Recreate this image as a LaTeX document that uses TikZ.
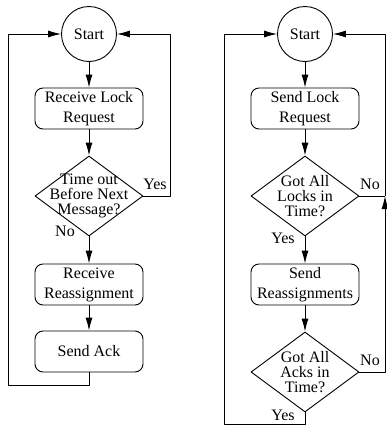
\documentclass[tikz,border=0pt]{standalone}
\usepackage{fontspec}
\setmainfont{Liberation Serif}
\usetikzlibrary{shapes.geometric,arrows.meta}
\begin{document}
\begin{tikzpicture}[x=1pt, y=-1pt, font=\fontsize{16}{20}\selectfont, line join=round, line width=0.9pt,
		>={Latex[length=13pt,width=7pt]},
		startnode/.style={draw, circle, minimum size=55pt, inner sep=0pt},
		procbox/.style={draw, rounded corners=8pt, minimum width=108pt, minimum height=41pt, inner sep=0pt, align=center},
		decision/.style={draw, diamond, minimum width=108pt, minimum height=80pt, inner sep=0pt},
		dtext/.style={align=center, inner sep=0pt, font=\fontsize{16}{15}\selectfont}]
	\useasboundingbox (0,0) rectangle (386,426);
	\node[startnode] (startA) at (89,34) {Start};
	\node[procbox] (lockreq) at (89,108.5) {Receive Lock\\Request};
	\node[decision, label={[dtext]center:{Time out\\Before Next\\Message?}}] (timeout) at (89,196) {};
	\node[procbox] (recvreass) at (89,284.5) {Receive\\Reassignment};
	\node[procbox] (sendack) at (89,351.5) {Send Ack};
	\node (yesA) at (155,184) {Yes};
	\node (noA) at (65,231) {No};
	\coordinate (loopA) at (8,385);
	\coordinate (backA) at (170,196);
	\draw[->] (startA) -- (lockreq);
	\draw[->] (lockreq) -- (timeout);
	\draw[->] (timeout) -- (recvreass);
	\draw[->] (recvreass) -- (sendack);
	\draw[->] (timeout) -- (backA) |- (startA);
	\draw[->] (sendack) -- (sendack |- loopA) -- (loopA) |- (startA);
	\node[startnode] (startB) at (305,34) {Start};
	\node[procbox] (sendlock) at (305,108.5) {Send Lock\\Request};
	\node[decision, label={[dtext]center:{Got All\\Locks in\\Time?}}] (gotlocks) at (305,196) {};
	\node[procbox] (sendreass) at (305,284.5) {Send\\Reassignments};
	\node[decision, label={[dtext]center:{Got All\\Acks in\\Time?}}] (gotacks) at (305,372) {};
	\node (noB) at (370,184) {No};
	\node (yesB) at (283,238) {Yes};
	\node (noC) at (370,360) {No};
	\node (yesC) at (283,415) {Yes};
	\coordinate (backB) at (385,196);
	\coordinate (loopB) at (224,424);
	\draw[->] (startB) -- (sendlock);
	\draw[->] (sendlock) -- (gotlocks);
	\draw[->] (gotlocks) -- (sendreass);
	\draw[->] (sendreass) -- (gotacks);
	\draw (gotlocks) -- (backB);
	\draw[->] (gotacks) -- (gotacks -| backB) -- (backB);
	\draw[->] (backB) |- (startB);
	\draw[->] (gotacks) -- (gotacks |- loopB) -- (loopB) |- (startB);
\end{tikzpicture}
\end{document}
